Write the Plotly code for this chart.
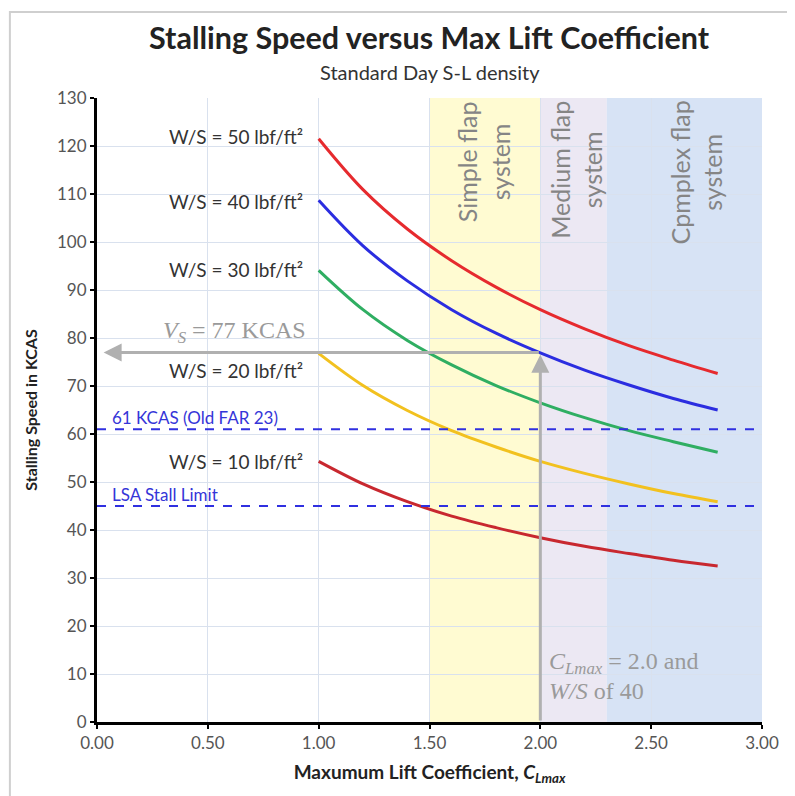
import plotly.graph_objects as go

# Max lift coefficient samples
cl = [1.0, 1.2, 1.4, 1.6, 1.8, 2.0, 2.2, 2.4, 2.6, 2.8]

# Stalling speed (KCAS) for each wing loading
vs_50 = [121.5, 110.9, 102.7, 96.1, 90.6, 85.9, 81.9, 78.4, 75.4, 72.6]
vs_40 = [108.7, 99.2, 91.9, 85.9, 81.0, 76.9, 73.3, 70.2, 67.4, 65.0]
vs_30 = [94.1, 85.9, 79.5, 74.4, 70.1, 66.5, 63.4, 60.7, 58.4, 56.2]
vs_20 = [76.8, 70.1, 64.9, 60.7, 57.3, 54.3, 51.8, 49.6, 47.6, 45.9]
vs_10 = [54.3, 49.6, 45.9, 42.9, 40.5, 38.4, 36.6, 35.1, 33.7, 32.5]

series = [
    ("W/S = 50 lbf/ft²", vs_50, "#e62a2e", 122),
    ("W/S = 40 lbf/ft²", vs_40, "#2b2de0", 108.5),
    ("W/S = 30 lbf/ft²", vs_30, "#2fae62", 94.3),
    ("W/S = 20 lbf/ft²", vs_20, "#f2c11f", 73.3),
    ("W/S = 10 lbf/ft²", vs_10, "#c8282f", 54.3),
]

ref_lines = [(61, "61 KCAS (Old FAR 23)", 63.5), (45, "LSA Stall Limit", 47.5)]

bands = [
    (1.5, 2.0, "#fffbd2", "Simple flap<br>system", 1.745),
    (2.0, 2.3, "#ece8f3", "Medium flap<br>system", 2.16),
    (2.3, 3.0, "#d7e3f5", "Cpmplex flap<br>system", 2.70),
]

x_ticks = [0.0, 0.5, 1.0, 1.5, 2.0, 2.5, 3.0]
y_ticks = list(range(0, 131, 10))

design_cl = 2.0
design_vs = 77

fig = go.Figure()

for name, vals, color, ylab in series:
    fig.add_trace(go.Scatter(x=cl, y=vals, mode="lines", name=name,
                             line=dict(color=color, width=3, shape="spline"),
                             showlegend=False))

shapes = []
annotations = []

for x0, x1, col, label, xl in bands:
    shapes.append(dict(type="rect", xref="x", yref="y", x0=x0, x1=x1, y0=0, y1=130,
                       fillcolor=col, line=dict(width=0), layer="below"))
    annotations.append(dict(x=xl, y=130, xref="x", yref="y", text=label, textangle=-90,
                            showarrow=False, yanchor="top", xanchor="center", yshift=-1,
                            font=dict(family="Lato", size=25, color="#858585")))

for yv, label, ylab in ref_lines:
    shapes.append(dict(type="line", xref="x", yref="y", x0=0, x1=3, y0=yv, y1=yv,
                       line=dict(color="#3030e0", width=2, dash="dash")))
    annotations.append(dict(x=0.06, y=ylab, xref="x", yref="y", text=label, showarrow=False,
                            xanchor="left", yanchor="middle",
                            font=dict(family="Lato", size=17, color="#3535d8")))

for name, vals, color, ylab in series:
    annotations.append(dict(x=0.94, y=ylab, xref="x", yref="y", text=name, showarrow=False,
                            xanchor="right", yanchor="middle",
                            font=dict(family="Lato", size=19, color="#333333")))

# grey arrows
annotations.append(dict(x=0.03, y=design_vs, ax=design_cl, ay=design_vs, xref="x", yref="y",
                        axref="x", ayref="y", text="", showarrow=True, arrowhead=2,
                        arrowsize=1.2, arrowwidth=3, arrowcolor="#b0b0b0"))
annotations.append(dict(x=design_cl, y=design_vs - 0.5, ax=design_cl, ay=0, xref="x", yref="y",
                        axref="x", ayref="y", text="", showarrow=True, arrowhead=2,
                        arrowsize=1.2, arrowwidth=3, arrowcolor="#b0b0b0"))
annotations.append(dict(x=0.62, y=81.2, xref="x", yref="y",
                        text="<i>V<sub>S</sub></i> = 77 KCAS", showarrow=False,
                        xanchor="center", yanchor="middle",
                        font=dict(family="Liberation Serif", size=24, color="#9a9a9a")))
annotations.append(dict(x=2.03, y=12.3, xref="x", yref="y",
                        text="<i>C<sub>Lmax</sub></i> = 2.0 and", showarrow=False,
                        xanchor="left", yanchor="middle",
                        font=dict(family="Liberation Serif", size=24, color="#9a9a9a")))
annotations.append(dict(x=2.03, y=6.5, xref="x", yref="y",
                        text="<i>W/S</i> of 40", showarrow=False,
                        xanchor="left", yanchor="middle",
                        font=dict(family="Liberation Serif", size=24, color="#9a9a9a")))

# titles
annotations.append(dict(x=0.5, y=1.0, xref="paper", yref="paper", yshift=61,
                        xanchor="center", yanchor="middle",
                        text="<b>Stalling Speed versus Max Lift Coefficient</b>", showarrow=False,
                        font=dict(family="Lato", size=30.5, color="#222222")))
annotations.append(dict(x=0.5, y=1.0, xref="paper", yref="paper", yshift=26,
                        xanchor="center", yanchor="middle",
                        text="Standard Day S-L density", showarrow=False,
                        font=dict(family="Lato", size=20, color="#333333")))

# outer frame
shapes.append(dict(type="rect", xref="paper", yref="paper", x0=-0.131, x1=1.08, y0=-0.2, y1=1.138,
                   line=dict(color="#cfcfcf", width=2), fillcolor="rgba(0,0,0,0)", layer="above"))

fig.update_layout(
    width=795, height=796,
    margin=dict(l=89, r=41, t=90, b=82, autoexpand=False),
    paper_bgcolor="white", plot_bgcolor="white",
    shapes=shapes, annotations=annotations,
    font=dict(family="Lato"),
)

fig.update_xaxes(range=[0, 3], tickvals=x_ticks, ticktext=[f"{v:.2f}" for v in x_ticks],
                 showgrid=True, gridcolor="#d9e1ee", gridwidth=1,
                 showline=True, linecolor="black", linewidth=3,
                 ticks="outside", ticklen=4, tickwidth=2, tickcolor="black",
                 tickfont=dict(family="Lato", size=17, color="#555555"), zeroline=False,
                 automargin=False,
                 title=dict(text="<b>Maxumum Lift Coefficient, <i>C<sub>Lmax</sub></i></b>",
                            font=dict(family="Lato", size=19, color="#222222"), standoff=14))
fig.update_yaxes(range=[0, 130], tickvals=y_ticks,
                 showgrid=True, gridcolor="#d9e1ee", gridwidth=1,
                 showline=True, linecolor="black", linewidth=3,
                 ticks="outside", ticklen=4, tickwidth=2, tickcolor="black",
                 tickfont=dict(family="Lato", size=17, color="#555555"), zeroline=False,
                 automargin=False,
                 title=dict(text="<b>Stalling Speed in KCAS</b>",
                            font=dict(family="Lato", size=16, color="#222222"), standoff=16))

fig.write_html("out.html")
